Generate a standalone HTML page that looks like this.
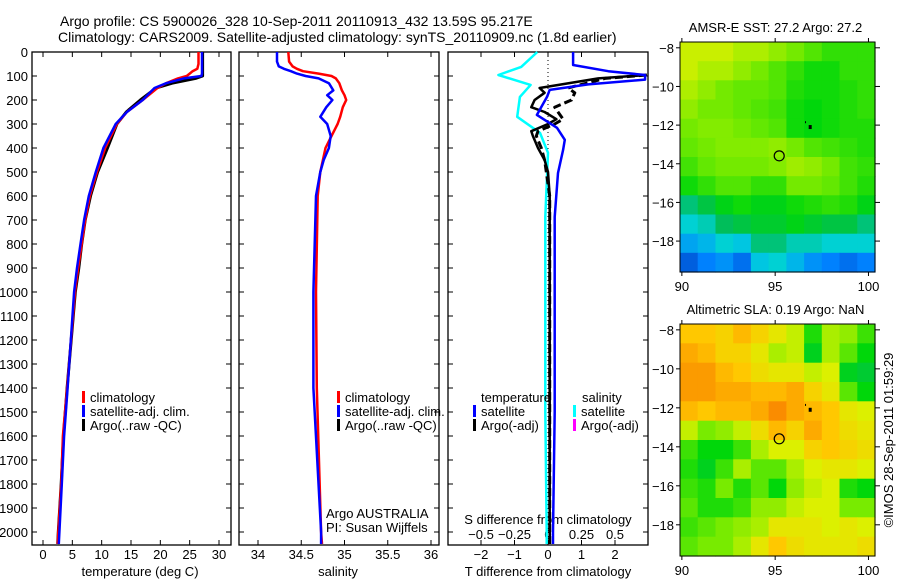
<!DOCTYPE html>
<html><head><meta charset="utf-8"><style>
html,body{margin:0;padding:0;background:#fff;}
svg{display:block;font-family:"Liberation Sans",sans-serif;}
</style></head><body>
<svg id="fig" width="900" height="580" xmlns="http://www.w3.org/2000/svg">
<text x="60" y="26" font-size="14">Argo profile: CS 5900026_328 10-Sep-2011 20110913_432 13.59S 95.217E</text>
<text x="58" y="42" font-size="14">Climatology: CARS2009. Satellite-adjusted climatology: synTS_20110909.nc (1.8d earlier)</text>
<g id="g1"></g>
<g id="g2"></g>
<g id="g3"></g>
<g id="m1"></g>
<g id="m2"></g>
<text transform="translate(893,440) rotate(-90)" text-anchor="middle" font-size="13">©IMOS 28-Sep-2011 01:59:29</text>
</svg>
<script>
// ---- data ----
const tDepths=[0,50,70,80,90,100,110,130,150,200,250,300,400,500,600,700,800,900,1000,1400,1600,1800,2000,2050];
const tempClim=[26.5,26.5,26.3,25.5,25,24.5,23,21,19.5,17,14.3,12.6,10.6,9.2,8,7.2,6.6,6,5.45,4.1,3.4,3.1,2.6,2.5];
const tempSat=[27.1,27.1,27.1,27.1,27.1,27,24,21,19,17,14.3,12.4,10.3,9,7.8,7.0,6.4,5.8,5.3,4.2,3.6,3.2,2.8,2.7];
const tempArgo=[27.2,27.2,27.2,27.2,27.2,27.2,26,22,19.3,16.6,14.2,12.6,11,9.3,8.1,7.2,6.6,6.1,5.5,4.1,3.5,3.1,2.6,2.5];
const sDepths=[0,40,60,70,80,90,100,110,130,160,180,200,230,270,300,350,400,450,500,600,1000,1400,2000,2050];
const salClim=[34.35,34.36,34.4,34.45,34.52,34.7,34.85,34.9,34.94,34.97,35.0,35.02,34.98,34.95,34.92,34.85,34.78,34.75,34.72,34.69,34.67,34.68,34.73,34.74];
const salSat=[34.22,34.22,34.24,34.3,34.38,34.45,34.55,34.7,34.82,34.87,34.8,34.86,34.79,34.72,34.8,34.84,34.82,34.76,34.72,34.67,34.64,34.64,34.73,34.73];
const dDepths=[0,54,80,96,115,135,158,187,262,316,366,408,504,687,1000,1500,2000,2050];
const tDiffSat=[0.75,0.75,1.8,2.9,2.9,1.2,0.05,-0.03,-0.33,0.27,0.5,0.45,0.3,0.2,0.2,0.2,0.15,0.15];
const aDepths=[96,110,150,170,200,230,250,280,300,330,350,400,450,500,600,1000,1500,2000,2050];
const tDiffArgo=[2.95,1.5,-0.25,-0.1,-0.4,-0.5,-0.1,0.25,0,-0.5,-0.45,-0.3,-0.1,0,0.05,0.05,0.05,0.05,0.05];
const tDiffArgoAdj=[2.95,1.7,0.6,0.8,0.7,0.2,0.3,0.45,0.2,-0.3,-0.35,-0.2,-0.1,-0.05,0.05,0.05,0.05,0.05,0.05];
const sDiffDepths=[0,62,96,137,187,270,337,420,687,1000,1500,2000,2050];
const sDiffSat=[-0.08,-0.2,-0.37,-0.13,-0.21,-0.23,-0.06,0,-0.02,-0.02,-0.02,-0.01,-0.01];
const depthTicks=[0,100,200,300,400,500,600,700,800,900,1000,1100,1200,1300,1400,1500,1600,1700,1800,1900,2000];
const tempTicks=[0,5,10,15,20,25,30];
const salTicks=["34","34.5","35","35.5","36"];
const tdTicks=["-2","-1","0","1","2"];
const sdTicks=["-0.5","-0.25","0","0.25","0.5"];
const mapLonTicks=[90,95,100];
const mapLatTicks=[-8,-10,-12,-14,-16,-18];
const sstGrid=[
[27.3,27.3,27.3,27.2,27.2,27.1,27.0,26.9,26.8,26.8,26.8],
[27.3,27.2,27.2,27.1,27.0,26.9,26.8,26.7,26.7,26.8,26.8],
[27.2,27.1,27.0,26.95,26.95,26.9,26.75,26.7,26.7,26.75,26.8],
[27.1,27.0,27.0,26.95,26.9,26.85,26.7,26.65,26.7,26.75,26.8],
[27.0,27.05,27.05,27.0,26.95,26.9,26.7,26.65,26.7,26.75,26.75],
[26.95,27.0,27.05,27.05,27.05,27.1,27.0,26.9,26.85,26.8,26.75],
[26.85,26.95,27.0,27.0,27.0,27.05,27.15,27.1,27.0,26.85,26.8],
[26.7,26.8,26.9,26.9,26.8,26.8,27.0,27.0,26.95,26.85,26.75],
[26.2,26.4,26.6,26.7,26.6,26.6,26.7,26.75,26.8,26.75,26.6],
[25.9,26.0,26.3,26.4,26.5,26.5,26.6,26.5,26.4,26.4,26.2],
[25.6,25.7,25.9,25.8,26.2,26.2,26.0,26.0,25.9,25.9,25.9],
[25.2,25.4,25.5,25.3,25.8,25.9,25.7,25.5,25.4,25.3,25.4]];
const slaGrid=[
[0.13,0.13,0.12,0.14,0.12,0.10,0.08,0.02,0.07,0.06,0.03],
[0.15,0.14,0.12,0.12,0.10,0.07,0.08,0.00,0.07,0.04,0.01],
[0.16,0.16,0.14,0.13,0.11,0.10,0.10,0.08,0.09,0.00,-0.01],
[0.16,0.16,0.15,0.15,0.14,0.14,0.15,0.12,0.10,0.04,0.01],
[0.14,0.13,0.14,0.14,0.15,0.17,0.15,0.14,0.13,0.10,0.09],
[0.08,0.05,0.06,0.08,0.11,0.14,0.12,0.15,0.13,0.11,0.10],
[0.03,0.01,0.01,0.03,0.07,0.09,0.09,0.12,0.13,0.12,0.11],
[0.02,0.00,0.03,0.07,0.04,0.04,0.07,0.09,0.10,0.10,0.09],
[0.03,0.02,0.05,0.02,0.04,0.01,0.06,0.08,0.09,0.02,0.01],
[0.04,0.02,0.02,0.03,0.06,0.06,0.08,0.09,0.09,0.05,0.05],
[0.03,0.04,0.05,0.06,0.07,0.10,0.10,0.10,0.09,0.10,0.09],
[0.04,0.05,0.05,0.07,0.10,0.13,0.11,0.10,0.10,0.10,0.11]];
const argoLon=95.217, argoLat=-13.59;

// ---- helpers ----
const NS="http://www.w3.org/2000/svg";
function mk(parent,tag,attrs,txt){const e=document.createElementNS(NS,tag);for(const k in attrs)e.setAttribute(k,attrs[k]);if(txt!==undefined)e.textContent=txt;parent.appendChild(e);return e;}
const yD=d=>52+0.24*d;
const xT=v=>43+v*(176/30);
const xS=v=>258+(v-34)*86.5;
const xTD=v=>548+v*33.5;
const xSD=v=>548+v*134;
function line(g,xs,ds,xf,color,w,name,dash){
  const pts=xs.map((v,i)=>xf(v).toFixed(1)+","+yD(ds[i]).toFixed(1)).join(" ");
  const p=mk(g,"polyline",{points:pts,fill:"none",stroke:color,"stroke-width":w,"stroke-linejoin":"round"});
  if(dash)p.setAttribute("stroke-dasharray",dash);
  
  
}
function frame(g,x0,x1,name){
  const r=mk(g,"rect",{x:x0,y:52,width:x1-x0,height:493,fill:"none",stroke:"#000","stroke-width":1.3});
  
  
  depthTicks.forEach(d=>{const y=yD(d);
    mk(g,"line",{x1:x0,x2:x0+5,y1:y,y2:y,stroke:"#000"});
    mk(g,"line",{x1:x1,x2:x1-5,y1:y,y2:y,stroke:"#000"});});
}
function xtick(g,x,label,y0,name){
  mk(g,"line",{x1:x,x2:x,y1:545,y2:540,stroke:"#000"});
  mk(g,"line",{x1:x,x2:x,y1:52,y2:57,stroke:"#000"});
  const t=mk(g,"text",{x:x,y:y0,"text-anchor":"middle","font-size":13},label);
  
  
}
function legendEntry(g,x,y,color,label){
  mk(g,"rect",{x:x,y:y-11,width:3,height:12,fill:color});
  const t=mk(g,"text",{x:x+8,y:y,"font-size":13},label);
  
  
}

// ---- panel 1 ----
const g1=document.getElementById("g1");
frame(g1,32,231,"temperature-axes-frame");
depthTicks.forEach(d=>{const t=mk(g1,"text",{x:28,y:yD(d)+5,"text-anchor":"end","font-size":13},String(d));
  
  });
tempTicks.forEach(v=>xtick(g1,xT(v),String(v),559,"temperature-tick-label"));
mk(g1,"text",{x:140,y:576,"text-anchor":"middle","font-size":13,},"temperature (deg C)");
line(g1,tempArgo,tDepths,xT,"#000",3,"argo-temperature-line");
line(g1,tempClim,tDepths,xT,"#f00",2.5,"climatology-temperature-line");
line(g1,tempSat,tDepths,xT,"#00f",2.5,"satellite-temperature-line");
legendEntry(g1,82,402,"#f00","climatology");
legendEntry(g1,82,416,"#00f","satellite-adj. clim.");
legendEntry(g1,82,430,"#000","Argo(..raw -QC)");

// ---- panel 2 ----
const g2=document.getElementById("g2");
frame(g2,239,439,"salinity-axes-frame");
salTicks.forEach(v=>xtick(g2,xS(+v),v,559,"salinity-tick-label"));
mk(g2,"text",{x:338,y:576,"text-anchor":"middle","font-size":13,},"salinity");
line(g2,salClim,sDepths,xS,"#f00",2.5,"climatology-salinity-line");
line(g2,salSat,sDepths,xS,"#00f",2.5,"satellite-salinity-line");
legendEntry(g2,337,402,"#f00","climatology");
legendEntry(g2,337,416,"#00f","satellite-adj. clim.");
legendEntry(g2,337,430,"#000","Argo(..raw -QC)");
mk(g2,"text",{x:326,y:518,"font-size":13,},"Argo AUSTRALIA");
mk(g2,"text",{x:326,y:532,"font-size":13,},"PI: Susan Wijffels");

// ---- panel 3 ----
const g3=document.getElementById("g3");
frame(g3,448,648,"difference-axes-frame");
mk(g3,"line",{x1:548,x2:548,y1:52,y2:545,stroke:"#000","stroke-dasharray":"1,3",});
tdTicks.forEach(v=>xtick(g3,xTD(+v),v.replace("-","\u2212"),559,"t-diff-tick-label"));
sdTicks.forEach(v=>{const t=mk(g3,"text",{x:xSD(+v),y:539,"text-anchor":"middle","font-size":13},v.replace("-","\u2212"));
  
  });
mk(g3,"text",{x:548,y:524,"text-anchor":"middle","font-size":13,},"S difference from climatology");
mk(g3,"text",{x:548,y:576,"text-anchor":"middle","font-size":13,},"T difference from climatology");
line(g3,sDiffSat,sDiffDepths,xSD,"#0ff",2.5,"salinity-satellite-diff-line");
line(g3,tDiffArgo,aDepths,xTD,"#000",2.5,"temperature-argo-diff-line");
line(g3,tDiffArgoAdj,aDepths,xTD,"#000",3,"temperature-argo-adj-diff-line","8,4");
line(g3,tDiffSat,dDepths,xTD,"#00f",2.5,"temperature-satellite-diff-line");
mk(g3,"text",{x:481,y:402,"font-size":13,},"temperature");
legendEntry(g3,473,416,"#00f","satellite");
legendEntry(g3,473,430,"#000","Argo(-adj)");
mk(g3,"text",{x:582,y:402,"font-size":13,},"salinity");
legendEntry(g3,573,416,"#0ff","satellite");
legendEntry(g3,573,430,"#f0f","Argo(-adj)");

// ---- maps ----
const cmapStops=[[0,[0,40,170]],[0.15,[0,130,255]],[0.28,[0,210,220]],[0.4,[0,190,90]],[0.5,[0,215,10]],[0.6,[120,235,0]],[0.7,[220,240,0]],[0.8,[255,200,0]],[0.9,[250,140,0]],[1,[230,60,0]]];
function cmap(t){t=Math.max(0,Math.min(1,t));
  for(let i=1;i<cmapStops.length;i++){const a=cmapStops[i-1],b=cmapStops[i];
    if(t<=b[0]){const f=(t-a[0])/(b[0]-a[0]);return "rgb("+a[1].map((c,k)=>Math.round(c+(b[1][k]-c)*f)).join(",")+")";}}
  return "rgb(230,60,0)";}
function drawMap(g,top,bottom,grid,vmin,vmax,title,name){
  const x0=680,x1=875,lon0=89.9,lon1=100.35,lat0=-7.7,lat1=-19.6;
  const xL=l=>x0+(l-lon0)/(lon1-lon0)*(x1-x0);
  const yL=l=>top+(l-lat0)/(lat1-lat0)*(bottom-top);
  const nr=grid.length,nc=grid[0].length;
  const cw=(lon1-lon0)/nc, ch=(lat1-lat0)/nr;
  grid.forEach((row,i)=>row.forEach((v,j)=>{
    const xa=xL(lon0+j*cw),xb=xL(lon0+(j+1)*cw),ya=yL(lat0+i*ch),yb=yL(lat0+(i+1)*ch);
    const c=mk(g,"rect",{x:xa.toFixed(1),y:ya.toFixed(1),width:(xb-xa+0.6).toFixed(1),height:(yb-ya+0.6).toFixed(1),fill:cmap((v-vmin)/(vmax-vmin))});
    
    
  }));
  const f=mk(g,"rect",{x:x0,y:top,width:x1-x0,height:bottom-top,fill:"none",stroke:"#000","stroke-width":1});
  
  
  mapLonTicks.forEach(l=>{const x=xL(l);
    mk(g,"line",{x1:x,x2:x,y1:top,y2:top-4,stroke:"#000"});
    mk(g,"line",{x1:x,x2:x,y1:bottom,y2:bottom+4,stroke:"#000"});
    const t=mk(g,"text",{x:x,y:bottom+19,"text-anchor":"middle","font-size":13},String(l));
    
    });
  mapLatTicks.forEach(l=>{const y=yL(l);
    mk(g,"line",{x1:x1,x2:x1+5,y1:y,y2:y,stroke:"#000"});
    mk(g,"line",{x1:x0,x2:x0-4,y1:y,y2:y,stroke:"#000"});
    const t=mk(g,"text",{x:674,y:y+5,"text-anchor":"end","font-size":13},String(l).replace("-","\u2212"));
    
    });
  const c=mk(g,"circle",{cx:xL(argoLon),cy:yL(argoLat),r:5,fill:"none",stroke:"#000","stroke-width":1.2});
  
  
  mk(g,"rect",{x:xL(96.85)-1,y:yL(-12.1)-2,width:3,height:4,fill:"#000"});
  mk(g,"rect",{x:xL(96.6),y:yL(-11.85)-1,width:1,height:2,fill:"#000"});
  const tt=mk(g,"text",{x:(x0+x1)/2-2,y:top-10,"text-anchor":"middle","font-size":13},title);
  
  
}
drawMap(document.getElementById("m1"),42,272,sstGrid,24.87,28.44,"AMSR-E SST: 27.2 Argo: 27.2","sst-map");
drawMap(document.getElementById("m2"),324,556,slaGrid,-0.19,0.21,"Altimetric SLA: 0.19 Argo: NaN","sla-map");
</script>
</body></html>
